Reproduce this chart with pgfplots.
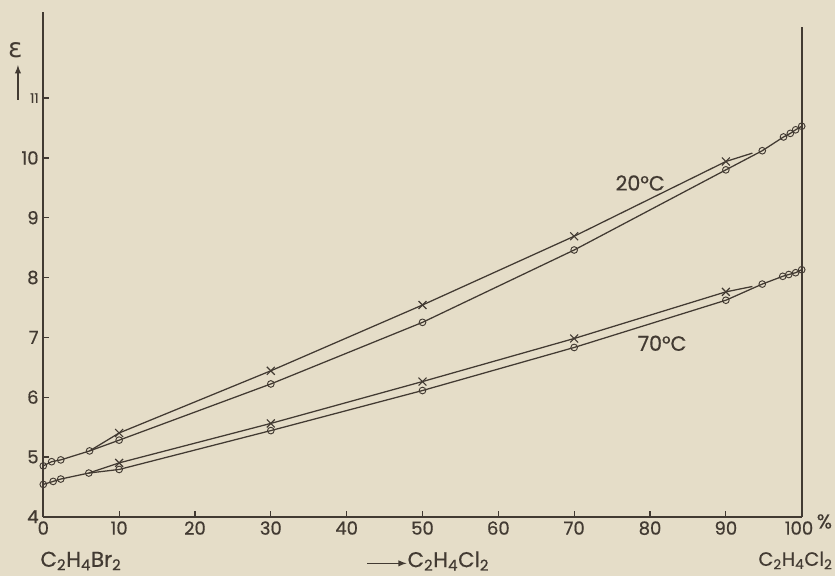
\documentclass[border=0pt]{standalone}
\usepackage{fontspec}
\setmainfont{Poppins}
\newfontfamily\medfont{Poppins}[FakeBold=0.6]
\newfontfamily\dv{DejaVu Sans}
\usepackage{pgfplots}
\pgfplotsset{compat=1.18}
\definecolor{bg}{RGB}{229,221,200}
\definecolor{ink}{RGB}{66,58,50}
\begin{document}
\begin{tikzpicture}[x=0.75pt,y=0.75pt]
\path[use as bounding box,fill=bg] (-43.3,-59.3) rectangle (791.7,516.7);
\begin{axis}[
  at={(0,0)}, anchor=south west,
  scale only axis, width=568.8pt, height=367.5pt,
  xmin=0, xmax=100, ymin=4, ymax=12.194,
  axis x line=bottom, axis y line=left,
  axis line style={-, ink, line width=1.2pt},
  xtick={0,10,...,100}, ytick={4,5,...,11},
  xticklabels={0,10,20,30,40,50,60,70,80,90,{\hspace*{-4pt}100}},
  yticklabels={4,5,6,7,8,9,10,{\fontsize{10}{11}\selectfont 11}},
  tick align=inside, major tick length=4pt,
  tick style={ink, line width=0.9pt},
  /pgf/number format/assume math mode=true,
  ticklabel style={font=\medfont\fontsize{13.5}{15}\selectfont, text=ink},
  clip=false,
  every axis plot/.append style={ink, line width=0.95pt},
]
% 20 C circles
\addplot[mark=o, mark size=2.5pt, mark options={fill=bg, line width=0.7pt}] coordinates {
 (0,4.85) (1.1,4.92) (2.3,4.95) (6.1,5.10) (10,5.28) (30,6.22) (50,7.25) (70,8.46) (90,9.80) (94.8,10.12) (97.6,10.35) (98.5,10.41) (99.2,10.47) (100,10.53)};
% 20 C crosses
\addplot[mark=x, mark size=4.2pt, mark indices={2,3,4,5,6}, mark options={line width=0.85pt}] coordinates {
 (6.1,5.10) (10,5.40) (30,6.44) (50,7.54) (70,8.69) (90,9.94) (93.5,10.08)};
% 70 C circles
\addplot[mark=o, mark size=2.5pt, mark options={fill=bg, line width=0.7pt}] coordinates {
 (0,4.54) (1.3,4.59) (2.3,4.63) (6,4.73) (10,4.79) (30,5.44) (50,6.11) (70,6.83) (90,7.62) (94.8,7.89) (97.5,8.02) (98.3,8.05) (99.2,8.08) (100,8.13)};
% 70 C crosses
\addplot[mark=x, mark size=4.2pt, mark indices={2,3,4,5,6}, mark options={line width=0.85pt}] coordinates {
 (6,4.73) (10,4.90) (30,5.56) (50,6.26) (70,6.98) (90,7.76) (93.5,7.85)};
% frame extras
\draw[ink, line width=1.2pt] (axis cs:100,4) -- (axis cs:100,12.194);
\draw[ink, line width=1.2pt] (axis cs:0,12.15) -- (axis cs:0,12.44);
% labels
\node[text=ink, font=\dv\fontsize{20}{22}\selectfont] at (axis cs:-3.7,11.80) {ε};
\draw[ink, line width=1.1pt, -latex] (axis cs:-3.34,10.97) -- (axis cs:-3.34,11.55);
\node[text=ink, font=\medfont\fontsize{15.5}{17}\selectfont] at (axis cs:78.7,9.58) {20°C};
\node[text=ink, font=\medfont\fontsize{15.5}{17}\selectfont] at (axis cs:81.6,6.90) {70°C};
\node[text=ink, font=\medfont\fontsize{16}{18}\selectfont, anchor=west, inner sep=0pt] at (axis cs:-0.4,3.26) {C\textsubscript{2}H\textsubscript{4}Br\textsubscript{2}};
\draw[ink, line width=1.1pt, -latex] (axis cs:42.7,3.22) -- (axis cs:47.9,3.22);
\node[text=ink, font=\medfont\fontsize{16}{18}\selectfont, anchor=west, inner sep=0pt] at (axis cs:48.0,3.26) {C\textsubscript{2}H\textsubscript{4}Cl\textsubscript{2}};
\node[text=ink, font=\medfont\fontsize{14.5}{16}\selectfont, anchor=east, inner sep=0pt] at (axis cs:104.1,3.27) {C\textsubscript{2}H\textsubscript{4}Cl\textsubscript{2}};
\node[text=ink, font=\medfont\fontsize{15}{17}\selectfont, inner sep=0pt] at (axis cs:103.0,3.92) {\%};
\end{axis}
\end{tikzpicture}
\end{document}
